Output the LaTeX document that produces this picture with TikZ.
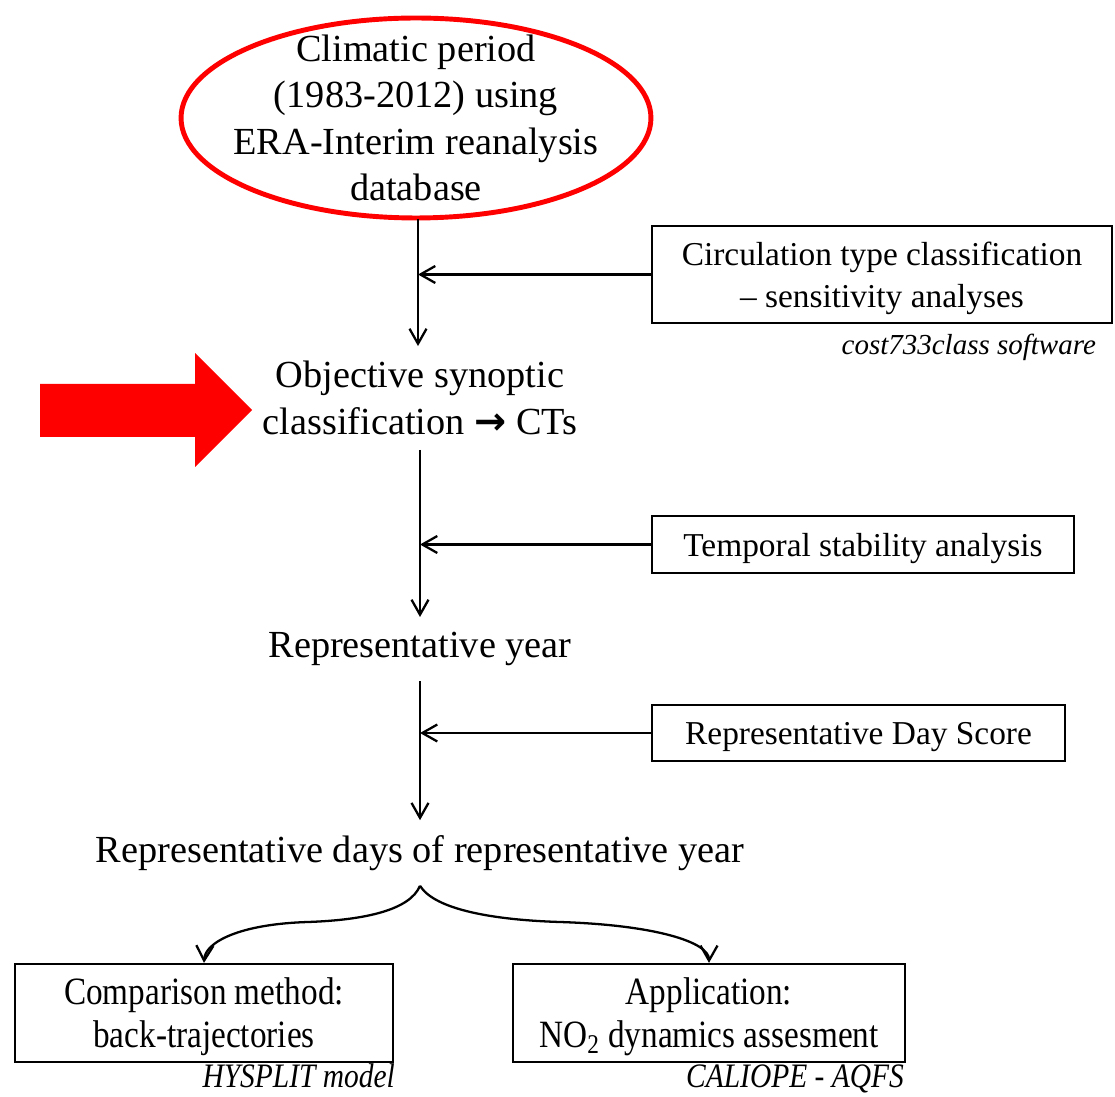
\documentclass[tikz,border=0pt]{standalone}
\usepackage{fontspec}
\setmainfont{Liberation Serif}
\newfontfamily\narrowfont{Liberation Serif}[FakeStretch=0.86]
\newfontfamily\symbfont{DejaVu Sans}
\usetikzlibrary{arrows.meta,shapes.geometric,positioning}
\definecolor{pptred}{RGB}{255,0,0}

\begin{document}
\begin{tikzpicture}[%
    x=0.02cm,
    y=-0.02cm,
    ->,
    >={Straight Barb[length=3mm,width=3.4mm]},
    line width=1.3pt,
    flowtext/.style={align=center, inner sep=8pt, font=\fontsize{21.8}{26.5}\selectfont},
    sidebox/.style={draw, rectangle, align=center, inner sep=2pt, text depth=0pt, font=\fontsize{19}{24}\selectfont},
    appbox/.style={draw, rectangle, align=center, inner sep=2pt, text depth=0pt, minimum height=1.96cm, font=\narrowfont\fontsize{22}{24.5}\selectfont},
    toolnote/.style={anchor=east, inner sep=0pt, text depth=0pt, font=\fontsize{16.5}{20}\selectfont\itshape}
  ]

  \useasboundingbox (0,0) rectangle (1115,1097);

  %main flow
  \node[align=center, font=\fontsize{21.8}{26.5}\selectfont] (clim) at (416,118)
        {Climatic period\\(1983-2012) using\\ERA-Interim reanalysis\\database};
  \draw[pptred, line width=2.8pt, -] (clim.center) ellipse [x radius=4.7cm, y radius=2cm];
  \coordinate (climbot) at (418,219);

  \node[flowtext] (cts) at (420,398) {Objective synoptic\\classification {\symbfont\bfseries →} CTs};
  \node[flowtext] (year) at (420,649) {Representative year};
  \node[flowtext] (days) at (420,853) {Representative days of representative year};

  %side boxes
  \node[sidebox, minimum width=9.2cm, minimum height=1.94cm] (circ) at (882,274.5)
        {Circulation type classification\\– sensitivity analyses};
  \node[sidebox, minimum width=8.44cm, minimum height=1.14cm] (temp) at (863,544.5)
        {Temporal stability analysis};
  \node[sidebox, minimum width=8.26cm, minimum height=1.12cm] (rds) at (858.5,733)
        {Representative Day Score};

  %application boxes
  \node[appbox, minimum width=7.56cm] (comp) at (204,1013) {Comparison method:\\back-trajectories};
  \node[appbox, minimum width=7.84cm] (appl) at (709,1013) {Application:\\NO\textsubscript{2} dynamics assesment};

  %software labels
  \node[toolnote] (cost) at (1097,344) {cost733class software};
  \node[toolnote, font=\narrowfont\fontsize{19.5}{21}\selectfont\itshape] (hysp) at (396,1076) {HYSPLIT model};
  \node[toolnote, font=\narrowfont\fontsize{19.5}{21}\selectfont\itshape] (cali) at (905,1076) {CALIOPE - AQFS};

  %red pointer
  \fill[pptred, -] (40,384) -- (195,384) -- (195,353) -- (252,410) -- (195,467)
        -- (195,437) -- (40,437) -- cycle;

  \draw (climbot) -- (climbot |- cts.north);
  \draw (cts.south) -- (year.north);
  \draw (year.south) -- (days.north);

  \draw (circ.west) -- (circ.west -| climbot);
  \draw (temp.west) -- (temp.west -| cts.south);
  \draw (rds.west) -- (rds.west -| year.south);

  \draw (days.south) .. controls (410,910) and (365,920) .. (308,922)
        .. controls (240,924) and (205,942) .. (comp.north);
  \draw (days.south) .. controls (435,910) and (495,920) .. (560,922)
        .. controls (655,925) and (709,942) .. (appl.north);

\end{tikzpicture}
\end{document}
